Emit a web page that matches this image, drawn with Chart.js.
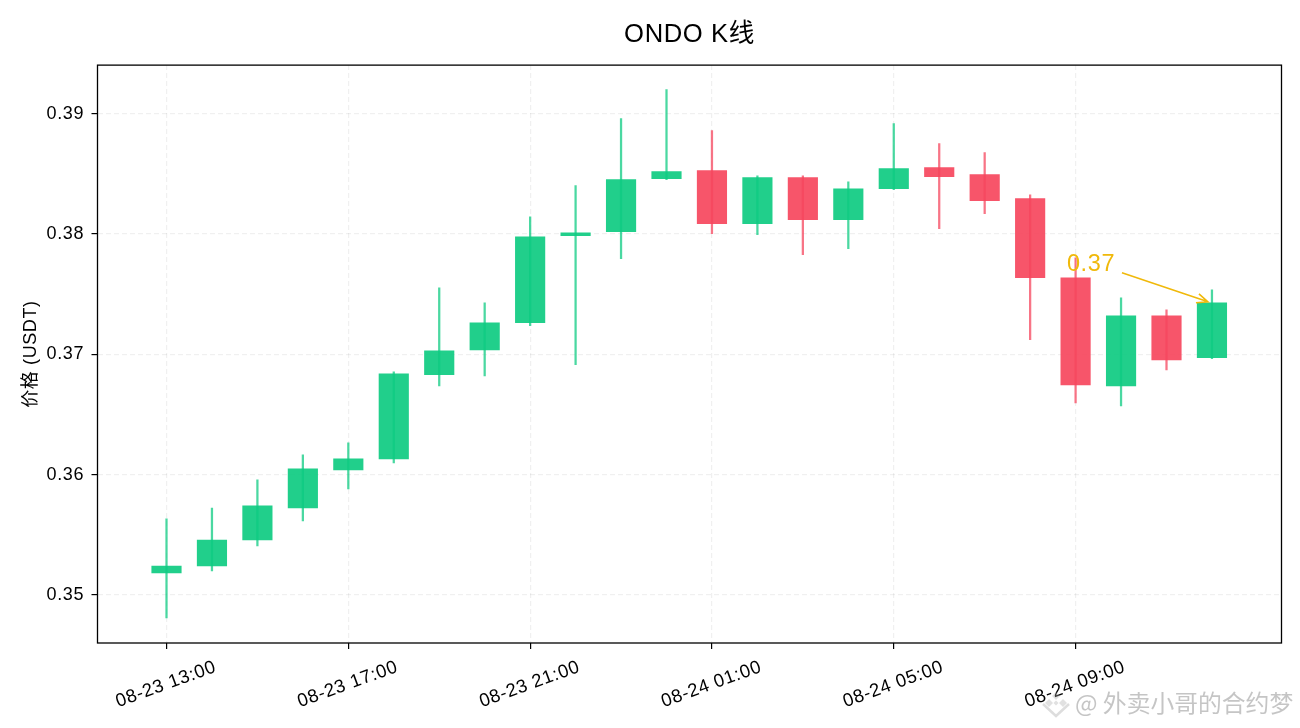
<!DOCTYPE html>
<html><head><meta charset="utf-8">
<style>html,body{margin:0;padding:0;background:#fff}canvas{display:block}</style>
<script src="https://cdn.jsdelivr.net/npm/chart.js@4"></script></head>
<body><canvas id="c" width="1300" height="728"></canvas>
<script>
const opens  = [.35183,.35241,.35457,.35723,.36040,.36131,.36830,.37037,.37262,.37985,.38019,.38459,.38526,.38085,.38468,.38119,.38376,.38551,.38493,.38293,.37636,.36738,.37320,.36971];
const closes = [.35241,.35457,.35740,.36048,.36131,.36838,.37029,.37262,.37977,.38010,.38451,.38518,.38085,.38468,.38119,.38376,.38543,.38476,.38277,.37636,.36746,.37320,.36954,.37428];
const highs  = [.35632,.35723,.35956,.36164,.36264,.36854,.37553,.37428,.38143,.38401,.38958,.39200,.38859,.38484,.38484,.38434,.38917,.38751,.38676,.38326,.37802,.37470,.37370,.37536];
const lows   = [.34809,.35200,.35407,.35615,.35881,.36098,.36738,.36821,.37237,.36913,.37794,.38451,.38002,.37994,.37827,.37877,.38368,.38044,.38168,.37121,.36597,.36572,.36871,.36963];
const isUp   = [1,1,1,1,1,1,1,1,1,1,1,1,0,1,0,1,1,0,0,0,0,1,0,1];
const xTickIndex = [0,4,8,12,16,20];
const xTickLabels = ['08-23 13:00','08-23 17:00','08-23 21:00','08-24 01:00','08-24 05:00','08-24 09:00'];
const yTicks = [.35,.36,.37,.38,.39];
const candleIndex = opens.map((_, i) => i);
const annotationText = '0.37';
const annotationIndex = 23;
const annotationValue = closes[23];
const watermark = '@ 外卖小哥的合约梦';

const FONT = '"Liberation Sans","Noto Sans CJK SC",sans-serif';
const GREEN = 'rgba(14,203,129,', RED = 'rgba(246,70,93,';
const frame = {
  id:'frame',
  beforeLayout(ch){ch.ctx.letterSpacing='0.6px';},
  beforeDraw(ch){ch.ctx.letterSpacing='0.6px';},
  afterDatasetsDraw(ch){
    const {ctx,chartArea:a,scales:{x,y}} = ch;
    ctx.save();
    ctx.strokeStyle='#000';ctx.lineWidth=1.3;
    ctx.strokeRect(a.left,a.top,a.right-a.left,a.bottom-a.top);
    const tx=x.getPixelForValue(annotationIndex)-4, ty=y.getPixelForValue(annotationValue)-1;
    const sx=tx-86, sy=ty-29;
    ctx.strokeStyle='#f0b90b';ctx.fillStyle='#f0b90b';ctx.lineWidth=1.6;
    ctx.beginPath();ctx.moveTo(sx,sy);ctx.lineTo(tx,ty);
    ctx.moveTo(tx-9,ty-8);ctx.lineTo(tx,ty);ctx.lineTo(tx-12,ty+1);ctx.stroke();
    ctx.font='23.5px '+FONT;ctx.textAlign='left';ctx.textBaseline='middle';
    ctx.fillText(annotationText,tx-141,ty-37);
    ctx.restore();
  },
  afterDraw(ch){
    const ctx=ch.ctx;
    ctx.save();
    ctx.letterSpacing='0px';
    ctx.fillStyle='rgba(150,150,150,0.55)';
    ctx.font='23.8px "Noto Sans CJK SC",sans-serif';ctx.textAlign='left';ctx.textBaseline='middle';
    ctx.fillText(watermark,1075,703);
    ctx.fillStyle='rgba(170,170,170,0.35)';
    const d=(cx,cy,r)=>{ctx.beginPath();ctx.moveTo(cx,cy-r);ctx.lineTo(cx+r,cy);ctx.lineTo(cx,cy+r);ctx.lineTo(cx-r,cy);ctx.closePath();ctx.fill();};
    d(1056,696,4);d(1049,703,4);d(1063,703,4);d(1056,703,2.5);
    ctx.strokeStyle='rgba(170,170,170,0.4)';ctx.lineWidth=2.5;
    ctx.beginPath();ctx.moveTo(1043,704);ctx.lineTo(1056,716);ctx.lineTo(1069,704);ctx.stroke();
    ctx.restore();
  }
};
new Chart(document.getElementById('c'),{
  type:'bar',
  data:{datasets:[
    {label:'影线',order:1,grouped:false,barThickness:1.6,
     data:candleIndex.map(i=>({x:i,y:[lows[i],highs[i]]})),
     backgroundColor:isUp.map(u=>(u?GREEN:RED)+'0.75)')},
    {label:'实体',order:2,grouped:false,barThickness:29.5,
     data:candleIndex.map(i=>({x:i,y:[Math.min(opens[i],closes[i]),Math.max(opens[i],closes[i])]})),
     backgroundColor:isUp.map(u=>(u?GREEN:RED)+'0.92)')}
  ]},
  plugins:[frame],
  options:{
    responsive:false,animation:false,devicePixelRatio:1,
    layout:{padding:{left:0,right:18.5,top:0,bottom:0}},
    plugins:{legend:{display:false},tooltip:{enabled:false},
      title:{display:true,fullSize:false,text:'ONDO K线',color:'#000',font:{family:FONT,size:25.6,weight:'normal'},padding:{top:20,bottom:14.4}}},
    scales:{
      x:{type:'linear',offset:false,min:-1.518,max:24.53,
        afterBuildTicks(s){s.ticks=xTickIndex.map(v=>({value:v}));},
        afterFit(s){s.height=85;},
        grid:{offset:false,color:'rgba(0,0,0,0.06)',tickColor:'#000',tickLength:6,lineWidth:1.2},
        border:{display:false,dash:[5,3]},
        ticks:{autoSkip:false,minRotation:20,maxRotation:20,labelOffset:49,padding:7,color:'#000',
          font:{family:FONT,size:18.5},
          callback:v=>xTickLabels[xTickIndex.indexOf(v)]}},
      y:{min:.34601,max:.39403,
        afterBuildTicks(s){s.ticks=yTicks.map(v=>({value:v}));},
        afterFit(s){s.width=97.5;},
        grid:{color:'rgba(0,0,0,0.06)',tickColor:'#000',tickLength:6,lineWidth:1.2},
        border:{display:false,dash:[5,3]},
        title:{display:true,text:'价格 (USDT)',color:'#000',font:{family:FONT,size:18},padding:{top:20,bottom:4}},
        ticks:{padding:7.5,color:'#000',font:{family:FONT,size:18},callback:v=>v.toFixed(2)}}
    }
  }
});
</script></body></html>
